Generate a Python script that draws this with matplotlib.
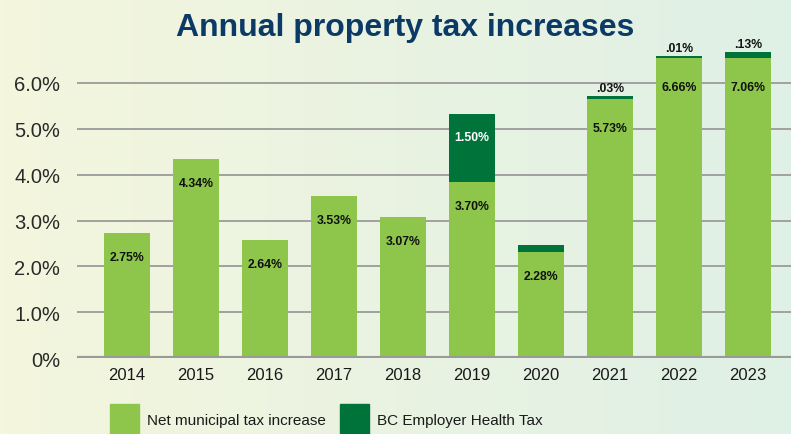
import numpy as np
import matplotlib
matplotlib.use('agg')
import matplotlib.pyplot as plt
from matplotlib.patches import Rectangle

years = ['2014', '2015', '2016', '2017', '2018', '2019', '2020', '2021', '2022', '2023']
# bar heights as drawn in the graphic (% points)
net_tax = [2.73, 4.34, 2.58, 3.54, 3.08, 3.84, 2.32, 5.65, 6.55, 6.54]
health_tax = [0, 0, 0, 0, 0, 1.48, 0.15, 0.07, 0.04, 0.13]
# printed labels
net_labels = ['2.75%', '4.34%', '2.64%', '3.53%', '3.07%', '3.70%', '2.28%', '5.73%', '6.66%', '7.06%']
health_labels = ['', '', '', '', '', '1.50%', '', '.03%', '.01%', '.13%']
yticks = [0, 1, 2, 3, 4, 5, 6]
ytick_labels = ['0%', '1.0%', '2.0%', '3.0%', '4.0%', '5.0%', '6.0%']
legend_labels = ['Net municipal tax increase', 'BC Employer Health Tax']

LIGHT = '#8dc64a'
DARK = '#00733b'
NAVY = '#0b3a66'
SANS = 'Liberation Sans'

W, H = 791, 435
fig = plt.figure(figsize=(W / 100, H / 100), dpi=100)

# background gradient
bg = fig.add_axes([0, 0, 1, 1], zorder=-10)
c1 = np.array([244, 246, 221]) / 255
c2 = np.array([223, 240, 230]) / 255
t = np.linspace(0, 1, 256)[None, :, None]
grad = c1 + (c2 - c1) * t
bg.imshow(np.repeat(grad, 2, axis=0), aspect='auto', extent=[0, 1, 0, 1])
bg.axis('off')

ax = fig.add_axes([77 / W, (H - 359.3) / H, 1 - 77 / W, (359.3 - 40) / H])
ax.patch.set_alpha(0)
x = np.arange(len(years))
ax.bar(x, net_tax, width=0.667, color=LIGHT, zorder=3)
ax.bar(x, health_tax, width=0.667, bottom=net_tax, color=DARK, zorder=3)

for i in range(len(years)):
    off = -24 if i < 7 else -29
    ax.annotate(net_labels[i], (x[i], net_tax[i]), xytext=(0, off), textcoords='offset pixels',
                ha='center', va='center', fontsize=8.8, fontweight='bold',
                family=SANS, color='#111111', zorder=5)
    if health_labels[i]:
        top = net_tax[i] + health_tax[i]
        if health_tax[i] > 0.5:
            ax.annotate(health_labels[i], (x[i], top), xytext=(0, -23), textcoords='offset pixels',
                        ha='center', va='center', fontsize=8.8, fontweight='bold',
                        family=SANS, color='white', zorder=5)
        else:
            ax.annotate(health_labels[i], (x[i], top), xytext=(0, 2), textcoords='offset pixels',
                        ha='center', va='bottom', fontsize=8.8, fontweight='bold',
                        family=SANS, color='#111111', zorder=5)

ax.set_xlim(-0.725, 9.62)
ax.set_ylim(0, 6.956)
ax.set_yticks(yticks)
ax.set_yticklabels(ytick_labels, family=SANS, fontsize=14.5, color='#2a2a2a')
ax.set_xticks(x)
ax.set_xticklabels(years, family=SANS, fontsize=12, color='#1a1a1a')
ax.tick_params(axis='y', length=0, pad=12)
ax.tick_params(axis='x', length=0, pad=6)
ax.grid(axis='y', color='#a0a0a0', linewidth=1.4, zorder=1)
ax.axhline(0, color='#9a9a9a', linewidth=3, zorder=4)
for s in ax.spines.values():
    s.set_visible(False)

fig.text(405 / W, 1 - 36 / H, 'Annual property tax increases', ha='center', va='baseline',
         fontsize=23, fontweight='bold', family=SANS, color=NAVY)

# legend
for lx, col, lab in [(110, LIGHT, legend_labels[0]), (340, DARK, legend_labels[1])]:
    fig.add_artist(Rectangle((lx / W, 0), 29 / W, 30 / H, transform=fig.transFigure,
                             color=col, clip_on=False))
    fig.text((lx + 37) / W, 1 - 421 / H, lab, ha='left', va='center',
             fontsize=11, family=SANS, color='#1a1a1a')

fig.savefig('out.png', dpi=100)
